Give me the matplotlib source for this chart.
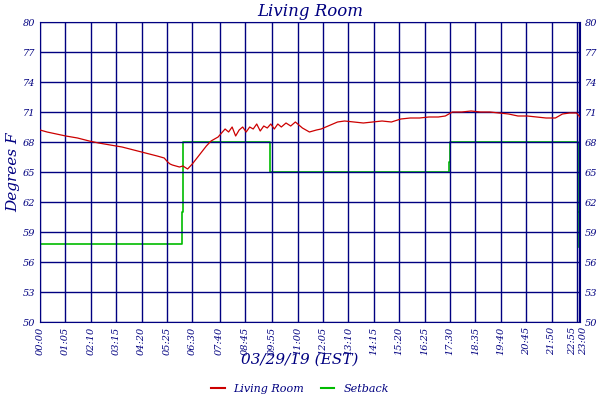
import matplotlib
matplotlib.use("Agg")
import matplotlib.pyplot as plt
from matplotlib.lines import Line2D

# Living room temperature (hour of day, degF)
living_t = [0.0, 0.3, 0.7, 1.1, 1.6, 2.1, 2.5, 3.0, 3.5, 4.0, 4.5, 5.0, 5.3, 5.45, 5.55, 5.65, 5.8, 5.95, 6.1, 6.3, 6.5, 6.7, 6.9,
            7.1, 7.3, 7.45, 7.6, 7.75, 7.9, 8.05, 8.2, 8.35, 8.5, 8.65, 8.8, 8.95, 9.1, 9.25, 9.4, 9.55, 9.7, 9.85, 10.0, 10.15,
            10.3, 10.5, 10.7, 10.9, 11.2, 11.5, 11.8, 12.0, 12.3, 12.7, 13.0, 13.4, 13.8, 14.2, 14.6, 15.0, 15.4, 15.8, 16.2, 16.6,
            17.0, 17.3, 17.6, 18.0, 18.4, 18.8, 19.2, 19.6, 20.0, 20.4, 20.8, 21.2, 21.6, 22.0, 22.3, 22.6, 22.9, 23.05]
living_v = [69.2, 69.0, 68.8, 68.6, 68.4, 68.1, 67.9, 67.7, 67.5, 67.2, 66.9, 66.6, 66.4, 66.0, 65.8, 65.7, 65.6, 65.5, 65.6, 65.3, 65.8, 66.4, 67.0,
            67.6, 68.1, 68.3, 68.5, 68.9, 69.3, 69.0, 69.5, 68.6, 69.2, 69.5, 69.0, 69.5, 69.3, 69.8, 69.1, 69.6, 69.4, 69.8, 69.3, 69.8,
            69.5, 69.9, 69.6, 70.0, 69.4, 69.0, 69.2, 69.3, 69.6, 70.0, 70.1, 70.0, 69.9, 70.0, 70.1, 70.0, 70.3, 70.4, 70.4, 70.5,
            70.5, 70.6, 71.0, 71.0, 71.1, 71.0, 71.0, 70.9, 70.8, 70.6, 70.6, 70.5, 70.4, 70.4, 70.8, 70.9, 70.9, 70.5]

# Setback (hour of day, degF)
setback_t = [0.0, 6.05, 6.05, 6.1, 6.1, 9.8, 9.8, 9.82, 9.82, 17.45, 17.45, 17.48, 17.48, 22.98, 22.98, 23.0, 23.0]
setback_v = [57.8, 57.8, 61.0, 61.0, 68.0, 68.0, 67.0, 67.0, 65.0, 65.0, 66.0, 66.0, 68.0, 68.0, 61.0, 61.0, 57.5]

y_ticks = [50, 53, 56, 59, 62, 65, 68, 71, 74, 77, 80]
x_labels = ["00:00", "01:05", "02:10", "03:15", "04:20", "05:25", "06:30", "07:40", "08:45", "09:55", "11:00",
            "12:05", "13:10", "14:15", "15:20", "16:25", "17:30", "18:35", "19:40", "20:45", "21:50", "22:55", "23:00"]

navy = "#000080"
fig = plt.figure(figsize=(6, 4), dpi=100)
ax = fig.add_axes([0.0667, 0.195, 0.9, 0.75])

def hrs(s):
    h, m = s.split(":")
    return int(h) + int(m) / 60

xt = [hrs(s) for s in x_labels]
ax.plot(living_t, living_v, color="#cc0000", lw=0.9, zorder=3)
ax.plot(setback_t, setback_v, color="#00bb00", lw=1.2, zorder=0.5)
ax.set_axisbelow(False)
ax.set_xlim(0, 23.05)
ax.set_ylim(50, 80)
ax.set_yticks(y_ticks)
ax.set_xticks(xt)
ax.set_xticklabels(x_labels, rotation=90, fontsize=7, color=navy, style="italic", family="DejaVu Serif")
labs = ax.get_xticklabels()
labs[-2].set_ha("right")
labs[-1].set_ha("left")
ax.set_yticklabels([str(v) for v in y_ticks], fontsize=7, color=navy, style="italic", family="DejaVu Serif")
ax.tick_params(length=0, labelright=True, right=False)
ax.grid(True, color=navy, lw=1, zorder=1)
for s in ax.spines.values():
    s.set_color(navy)
ax.set_title("Living Room", color=navy, fontsize=12, style="italic", family="DejaVu Serif", pad=4)
ax.set_ylabel("Degrees F", color=navy, fontsize=11, style="italic", family="DejaVu Serif", labelpad=2)
fig.text(0.5, 0.09, "03/29/19 (EST)", ha="center", color=navy, fontsize=11, style="italic", family="DejaVu Serif")
h = [Line2D([], [], color="#cc0000", lw=1.5), Line2D([], [], color="#00bb00", lw=1.5)]
fig.legend(h, ["Living Room", "Setback"], loc="lower center", bbox_to_anchor=(0.5, -0.01), ncol=2, frameon=False,
           prop={"family": "DejaVu Serif", "style": "italic", "size": 8}, labelcolor=navy, handlelength=1.2, columnspacing=1.5)
fig.savefig("out.png", dpi=100)
